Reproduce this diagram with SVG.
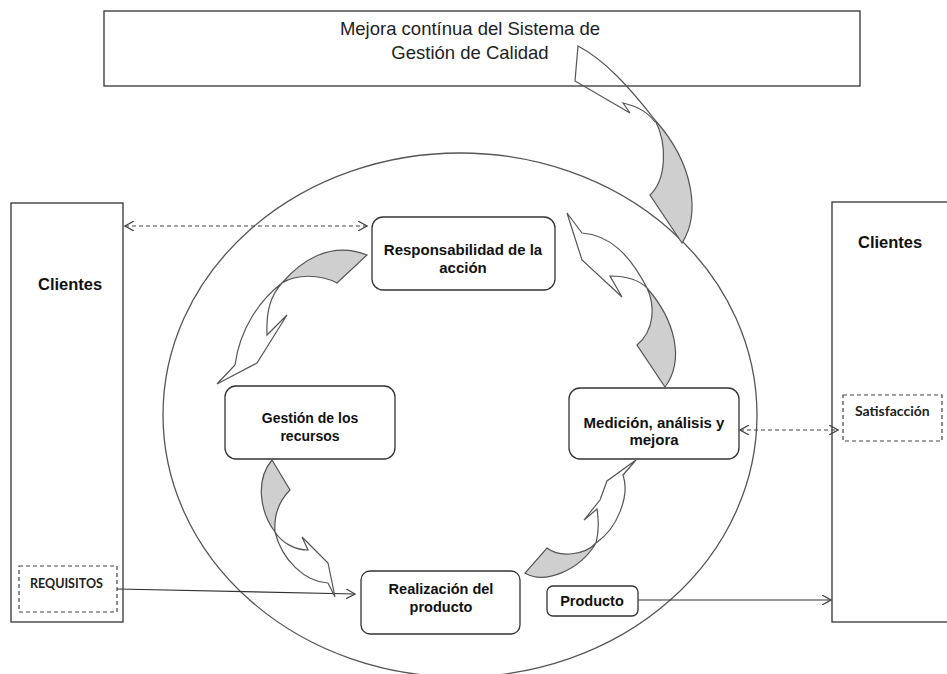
<svg xmlns="http://www.w3.org/2000/svg" width="947" height="674" viewBox="0 0 947 674">
<defs>
<marker id="open" viewBox="0 0 10 10" refX="9" refY="5" markerWidth="10" markerHeight="10" markerUnits="userSpaceOnUse" orient="auto-start-reverse">
<path d="M0,0 L9,5 L0,10" fill="none" stroke="#444" stroke-width="1.2"/>
</marker>
</defs>
<style>
.box{fill:#fff;stroke:#333;stroke-width:1.3}
.node{fill:#fff;stroke:#333;stroke-width:1.3}
.dash{fill:none;stroke:#444;stroke-width:1.2;stroke-dasharray:4 3}
.conn{fill:none;stroke:#333;stroke-width:1.2}
.aw{fill:none;stroke:#555;stroke-width:1.2;stroke-linejoin:miter}
.ag{fill:#cfcfcf;stroke:#555;stroke-width:1.2}
.nt{font-family:"Liberation Sans",Arial,sans-serif;font-weight:bold;fill:#111;text-anchor:middle}
.ct{font-family:"Liberation Sans",Arial,sans-serif;font-weight:bold;font-size:16.5px;fill:#111}
.ca{font-family:Lato,"Open Sans",sans-serif;fill:#222}
</style>
<rect width="947" height="674" fill="#fff"/>
<g id="ciclo">
<ellipse cx="460" cy="415" rx="297" ry="262" fill="none" stroke="#555" stroke-width="1.3"/>
</g>
<g id="mejora">
<rect class="box" x="104" y="11" width="756" height="75"/>
<text x="470" y="35" text-anchor="middle" font-family="'Liberation Sans',Arial,sans-serif" font-size="18.5" fill="#222">Mejora contínua del Sistema de</text>
<text x="470" y="59" text-anchor="middle" font-family="'Liberation Sans',Arial,sans-serif" font-size="18.5" fill="#222">Gestión de Calidad</text>
</g>
<g id="clientes-izq">
<rect class="box" x="11" y="203" width="112" height="419"/>
<text class="ct" x="38" y="290">Clientes</text>
<rect class="dash" x="19" y="566" width="98" height="46"/>
<text class="ca" x="30" y="588" font-size="12.5" font-weight="bold">REQUISITOS</text>
</g>
<g id="clientes-der">
<rect class="box" x="832" y="202" width="130" height="420"/>
<text class="ct" x="858" y="248">Clientes</text>
<rect class="dash" x="843" y="395" width="99" height="46"/>
<text class="ca" x="855" y="416" font-size="14" font-weight="bold">Satisfacción</text>
</g>
<g id="responsabilidad">
<rect class="node" x="372" y="217" width="183" height="73" rx="11"/>
<text class="nt" x="463" y="255" font-size="15">Responsabilidad de la</text>
<text class="nt" x="463" y="273" font-size="15">acción</text>
</g>
<g id="gestion">
<rect class="node" x="225" y="386" width="170" height="73" rx="11"/>
<text class="nt" x="310" y="423" font-size="14">Gestión de los</text>
<text class="nt" x="310" y="441" font-size="14">recursos</text>
</g>
<g id="medicion">
<rect class="node" x="569" y="388" width="170" height="71" rx="11"/>
<text class="nt" x="654" y="428" font-size="15">Medición, análisis y</text>
<text class="nt" x="654" y="445" font-size="15">mejora</text>
</g>
<g id="realizacion">
<rect class="node" x="361" y="571" width="159" height="63" rx="9"/>
<text class="nt" x="441" y="594" font-size="14.5">Realización del</text>
<text class="nt" x="441" y="612" font-size="14.5">producto</text>
</g>
<g id="producto">
<rect class="node" x="547" y="586" width="91" height="30" rx="6"/>
<text class="nt" x="592" y="606" font-size="14.5">Producto</text>
</g>
<g id="connectors">
<line class="dash" x1="125" y1="226" x2="367" y2="226" marker-start="url(#open)" marker-end="url(#open)"/>
<line class="dash" x1="740" y1="430" x2="838" y2="430" marker-start="url(#open)" marker-end="url(#open)"/>
<line class="conn" x1="117" y1="589" x2="355" y2="594" marker-end="url(#open)"/>
<line class="conn" x1="638" y1="600" x2="831" y2="600" marker-end="url(#open)"/>
<path class="ag" d="M655,120 C668,145 666,180 650,195 L682,243 C700,215 695,165 655,120 Z"/>
<path class="aw" d="M655,120 C630,88 605,60 578,46 L575,81 L630,113 L623,103 Q645,108 655,122"/>
<path class="ag" d="M282,283 C300,262 330,240 367,255 L337,283 C320,274 296,274 282,283 Z"/>
<path class="aw" d="M282,283 C260,300 240,328 235,365 L217,384 L257,363 L287,315 L267,335 C266,310 271,295 282,283"/>
<path class="ag" d="M647,288 C655,305 655,330 637,345 L665,387 C685,360 675,320 647,288 Z"/>
<path class="aw" d="M647,288 C630,255 610,235 582,233 L567,213 L582,260 L622,297 L610,276 Q635,276 647,288"/>
<path class="ag" d="M272,460 L290,490 C278,502 274,518 275,532 C260,512 255,480 272,460 Z"/>
<path class="aw" d="M275,532 C282,560 305,582 328,583 L335,597 L328,563 L302,537 L308,550 C295,550 282,543 275,532"/>
<path class="ag" d="M596,543 C585,555 560,558 547,548 L525,573 C545,585 580,570 596,543 Z"/>
<path class="aw" d="M596,543 C618,528 630,495 623,475 L636,460 L607,481 L600,500 L584,520 L597,509 Q600,528 596,543"/>
</g>
</svg>
